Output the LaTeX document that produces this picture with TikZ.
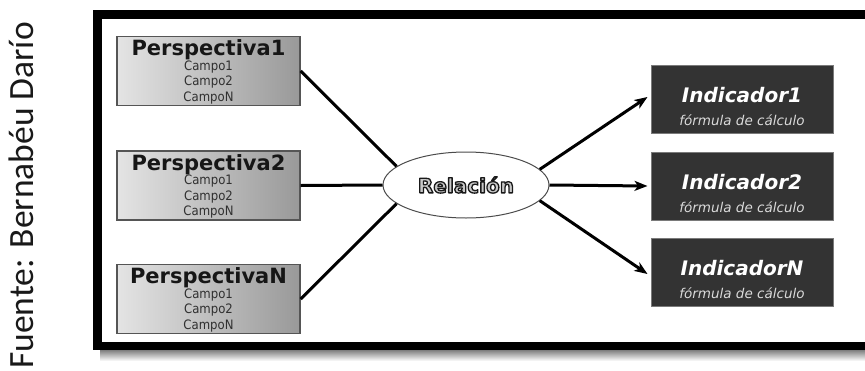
\documentclass[tikz,border=0pt]{standalone}
\usepackage{fontspec}
\setmainfont{DejaVu Sans}
\newfontfamily\srcfont{Carlito}
\newfontfamily\narrowfont[FakeStretch=0.9]{DejaVu Sans}
\usetikzlibrary{shapes.geometric,arrows.meta,calc}
\definecolor{boxedge}{HTML}{555555}
\definecolor{perspL}{HTML}{E4E4E4}
\definecolor{perspR}{HTML}{999999}
\definecolor{titlecol}{HTML}{161616}
\definecolor{fieldcol}{HTML}{303030}
\definecolor{indfill}{HTML}{333333}
\definecolor{indedge}{HTML}{7A7A7A}
\definecolor{subcol}{HTML}{DADADA}
\definecolor{reldark}{HTML}{1E1E1E}
\definecolor{rellight}{HTML}{C8C8C8}
% outlined lettering: light fill with a dark stroke round each glyph
\newcommand\outlinedword[1]{%
  \special{pdf:literal direct 2 Tr 1.3 w 1 j 0.1 0.1 0.1 RG}#1\special{pdf:literal direct 0 Tr}}
\begin{document}
\begin{tikzpicture}[x=1pt,y=-1pt,
  persp/.style={rectangle,draw=boxedge,line width=1.3pt,left color=perspL,right color=perspR,
    minimum width=183pt,minimum height=69pt,inner sep=0pt},
  ind/.style={rectangle,draw=indedge,fill=indfill,line width=1pt,
    minimum width=182pt,minimum height=68pt,inner sep=0pt},
  ptitle/.style={inner sep=0pt,text=titlecol,font=\bfseries\fontsize{21}{21}\selectfont},
  pfield/.style={inner sep=0pt,text=fieldcol,font=\narrowfont\fontsize{13}{13}\selectfont},
  ititle/.style={inner sep=0pt,text=white,font=\bfseries\itshape\fontsize{20}{20}\selectfont},
  isub/.style={inner sep=0pt,text=subcol,font=\itshape\fontsize{13.5}{13.5}\selectfont},
  relshape/.style={ellipse,draw=reldark!80,line width=1pt,fill=white,
    minimum width=166pt,minimum height=66pt,inner sep=0pt},
  reltext/.style={inner sep=0pt,text=rellight,font=\bfseries\fontsize{20}{20}\selectfont},
  link/.style={line width=3pt,black},
  arrowlink/.style={link,-{Stealth[length=13pt,width=10pt,inset=3.5pt]}}]
\useasboundingbox (0,0) rectangle (865,370);

% source note, reading bottom to top
\node[rotate=90,anchor=base east,inner sep=0pt,text=black!90,
  font=\srcfont\fontsize{35.5}{35.5}\selectfont] (src) at (34,22) {Fuente: Bernabéu Darío};

% soft shadow under the frame and the frame itself
\shade[top color=black!55,bottom color=white] (100,349) rectangle (865,361);
\draw[line width=8.5pt] (97.5,14.5) rectangle (885,346);

% perspectives
\foreach \n/\lab/\y in {p1/1/71,p2/2/185.5,pN/N/299}{
  \node[persp] (\n) at (208.5,\y) {};
  \node[ptitle] (\n t) at ($(\n)+(0,-21)$) {Perspectiva\lab};
  \node[pfield] (\n a) at ($(\n)+(0,-4)$) {Campo1};
  \node[pfield] (\n b) at ($(\n)+(0,11.5)$) {Campo2};
  \node[pfield] (\n c) at ($(\n)+(0,27)$) {CampoN};
}

% relation
\node[relshape] (rel) at (466,185) {};
\node[reltext] (relt) at (rel) {\outlinedword{Relación}};

% indicators
\foreach \n/\lab/\y in {i1/1/99,i2/2/186,iN/N/272}{
  \node[ind] (\n) at (742,\y) {};
  \node[ititle] (\n t) at ($(\n)+(0,-4)$) {Indicador\lab};
  \node[isub] (\n s) at ($(\n)+(0,21.5)$) {fórmula de cálculo};
}

% connectors
\draw[link] (p1.east) -- (rel.165);
\draw[link] (p2.east) -- (rel.west);
\draw[link] (pN.east) -- (rel.195);
\draw[arrowlink] (rel.12) -- ($(i1.west)+(-3,-2)$);
\draw[arrowlink] (rel.east) -- ($(i2.west)+(-3,0)$);
\draw[arrowlink] (rel.-12) -- ($(iN.west)+(-3,2)$);
\end{tikzpicture}
\end{document}
